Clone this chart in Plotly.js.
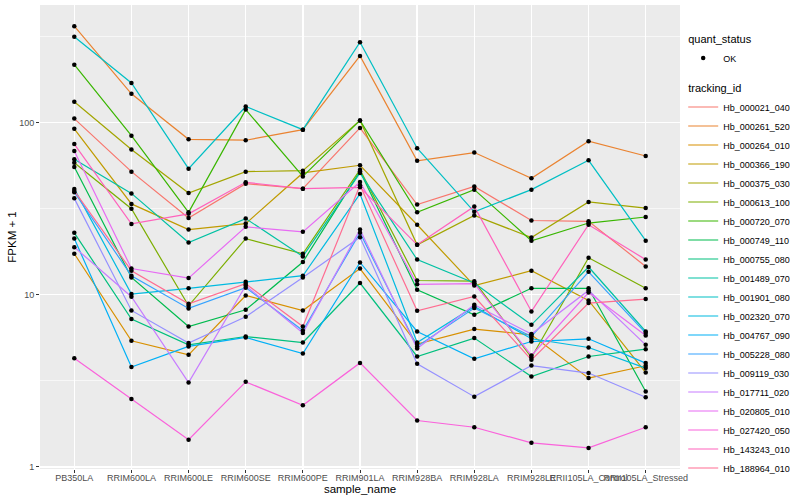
<!DOCTYPE html>
<html>
<head>
<meta charset="utf-8">
<script src="https://cdn.plot.ly/plotly-3.0.1.min.js"></script>
<style>html,body{margin:0;padding:0;background:#fff}#chart{width:800px;height:500px}</style>
</head>
<body>
<div id="chart"></div>
<script>
// x categories
const samples = ["PB350LA","RRIM600LA","RRIM600LE","RRIM600SE","RRIM600PE","RRIM901LA","RRIM928BA","RRIM928LA","RRIM928LE","RRII105LA_Control","RRII105LA_Stressed"];

// legend labels
const trackingIds = ["Hb_000021_040","Hb_000261_520","Hb_000264_010","Hb_000366_190","Hb_000375_030","Hb_000613_100","Hb_000720_070","Hb_000749_110","Hb_000755_080","Hb_001489_070","Hb_001901_080","Hb_002320_070","Hb_004767_090","Hb_005228_080","Hb_009119_030","Hb_017711_020","Hb_020805_010","Hb_027420_050","Hb_143243_010","Hb_188964_010"];

// FPKM + 1 per sample
const Hb_000021_040 = [105.5, 51.9, 27.9, 44.2, 41.3, 93.1, 33.4, 42.6, 27.0, 26.7, 14.6];
const Hb_000261_520 = [363, 147, 80, 79, 91, 244, 60, 67, 47.5, 78, 64];
const Hb_000264_010 = [17.3, 5.40, 4.48, 9.9, 8.1, 14.2, 5.17, 6.32, 5.85, 3.28, 3.87];
const Hb_000366_190 = [92, 33.7, 23.9, 25.9, 51, 56.5, 25.5, 11.3, 13.8, 9.27, 3.53];
const Hb_000375_030 = [132, 69.7, 39, 51.9, 52.6, 103, 19.5, 28.9, 21.5, 34.6, 31.9];
const Hb_000613_100 = [58.4, 31.6, 8.63, 21.2, 17.3, 53.3, 12.1, 12.0, 4.32, 16.4, 10.9];
const Hb_000720_070 = [217, 84, 30.1, 119, 48.7, 103, 30.1, 40.8, 20.6, 26.1, 28.3];
const Hb_000749_110 = [55.2, 12.6, 6.54, 8.18, 15.5, 52.1, 10.7, 7.65, 10.9, 10.9, 2.74];
const Hb_000755_080 = [22.9, 7.22, 5.12, 5.72, 5.28, 11.7, 4.38, 5.60, 3.35, 4.38, 4.83];
const Hb_001489_070 = [61.2, 38.8, 20.1, 27.7, 16.7, 51, 16.0, 11.7, 6.69, 14.5, 6.12];
const Hb_001901_080 = [315, 170, 54, 124, 91, 293, 71, 30.3, 40.8, 60.4, 20.6];
const Hb_002320_070 = [41.2, 10.1, 10.9, 11.9, 12.9, 38.5, 5.28, 8.55, 5.55, 4.94, 3.75];
const Hb_004767_090 = [21.2, 3.80, 5.01, 5.65, 4.56, 15.4, 6.12, 4.25, 5.35, 5.55, 4.01];
const Hb_005228_080 = [39.4, 12.9, 8.33, 11.0, 6.20, 22.9, 5.01, 8.37, 5.72, 13.6, 5.99];
const Hb_009119_030 = [36.3, 8.11, 5.24, 7.45, 12.6, 21.6, 3.97, 2.56, 3.88, 3.51, 2.54];
const Hb_017711_020 = [18.9, 9.74, 3.09, 11.3, 5.99, 23.9, 4.87, 8.75, 5.91, 10.6, 5.12];
const Hb_020805_010 = [68.4, 14.2, 12.5, 24.8, 23.2, 45.2, 11.5, 11.6, 4.44, 10.3, 5.80];
const Hb_027420_050 = [4.28, 2.48, 1.44, 3.12, 2.28, 4.02, 1.86, 1.70, 1.38, 1.29, 1.70];
const Hb_143243_010 = [75, 25.8, 29.5, 45.0, 41.3, 42.1, 19.5, 32.6, 8.0, 25.5, 16.0];
const Hb_188964_010 = [40.1, 13.8, 8.87, 11.6, 6.54, 43.2, 8.07, 9.77, 4.19, 8.95, 9.44];

const seriesValues = [Hb_000021_040, Hb_000261_520, Hb_000264_010, Hb_000366_190, Hb_000375_030,
  Hb_000613_100, Hb_000720_070, Hb_000749_110, Hb_000755_080, Hb_001489_070, Hb_001901_080,
  Hb_002320_070, Hb_004767_090, Hb_005228_080, Hb_009119_030, Hb_017711_020, Hb_020805_010,
  Hb_027420_050, Hb_143243_010, Hb_188964_010];

const palette = ["#F8766D","#EA8331","#D89000","#C09B00","#A3A500","#7CAE00","#39B600","#00BB4E","#00BF7D","#00C1A3",
  "#00BFC4","#00BAE0","#00B0F6","#35A2FF","#9590FF","#C77CFF","#E76BF3","#FA62DB","#FF62BC","#FF6C91"];

const yTickVals = [1, 10, 100];
const yTickText = ["1", "10", "100"];

const traces = trackingIds.map((id, i) => ({
  type: 'scatter', mode: 'lines', name: id,
  x: samples, y: seriesValues[i],
  line: {color: palette[i], width: 1.2},
  legendgroup: 'tracking_id',
  legendgrouptitle: {text: 'tracking_id', font: {size: 11, color: '#000'}},
  legendrank: 2 + i,
  hoverinfo: 'skip'
}));

const allX = [], allY = [];
seriesValues.forEach(vals => vals.forEach((v, j) => { allX.push(samples[j]); allY.push(v); }));
traces.push({
  type: 'scatter', mode: 'markers', name: 'OK',
  x: allX, y: allY,
  marker: {color: '#000', size: 4.5},
  legendgroup: 'quant_status',
  legendgrouptitle: {text: 'quant_status', font: {size: 11, color: '#000'}},
  legendrank: 1,
  hoverinfo: 'skip'
});

const layout = {
  width: 800, height: 500,
  margin: {l: 40, r: 116, t: 5, b: 31, pad: 0},
  paper_bgcolor: '#ffffff', plot_bgcolor: '#EBEBEB',
  font: {family: 'Liberation Sans, Arial, sans-serif', size: 9, color: '#4D4D4D'},
  showlegend: true,
  legend: {x: 1.005, xanchor: 'left', y: 0.958, yanchor: 'top', traceorder: 'grouped',
           tracegroupgap: 11, font: {size: 9, color: '#000'}, bgcolor: 'rgba(0,0,0,0)', itemwidth: 30},
  xaxis: {type: 'category', range: [-0.6, 10.6], tickangle: 0, showgrid: true, gridcolor: '#ffffff', gridwidth: 1.4,
          zeroline: false, showline: false, ticks: 'outside', ticklen: 3, tickcolor: '#333333',
          ticklabelstandoff: -3,
          tickfont: {size: 9, color: '#4D4D4D'},
          title: {text: 'sample_name', font: {size: 11.5, color: '#000'}, standoff: 0}},
  yaxis: {type: 'log', range: [-0.012, 2.683], tickmode: 'array', tickvals: yTickVals, ticktext: yTickText,
          showgrid: true, gridcolor: '#ffffff', gridwidth: 1.4,
          minor: {tickvals: [3.1623, 31.623, 316.23], showgrid: true, gridcolor: '#ffffff', gridwidth: 0.6, ticks: ''},
          zeroline: false, showline: false, ticks: 'outside', ticklen: 3, tickcolor: '#333333',
          tickfont: {size: 9, color: '#4D4D4D'},
          title: {text: 'FPKM + 1', font: {size: 11.5, color: '#000'}, standoff: 0}},
  hovermode: false
};

Plotly.newPlot('chart', traces, layout, {staticPlot: true, displayModeBar: false});
</script>
</body>
</html>
